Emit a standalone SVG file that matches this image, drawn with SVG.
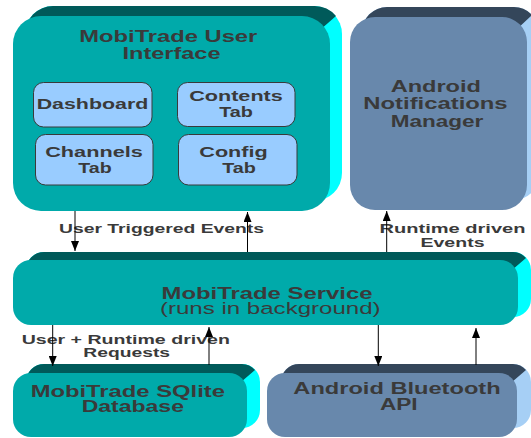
<svg xmlns="http://www.w3.org/2000/svg" width="531" height="438" viewBox="0 0 531 438">
<defs>
<marker id="ah" markerUnits="userSpaceOnUse" markerWidth="10" markerHeight="8" refX="10" refY="4" orient="auto" viewBox="0 0 10 8">
<path d="M0,0 L10,4 L0,8 Z" fill="#000"/>
</marker>
</defs>
<style>
.tealTop{fill:#005a5a}
.tealSide{fill:#00ffff}
.tealFront{fill:#00aaaa}
.blueTop{fill:#34465a}
.blueSide{fill:#a6cff5}
.blueFront{fill:#6888ac}
.sub{fill:#99ccff;stroke:#3a3a3a;stroke-width:1}
text{font-family:"Liberation Sans",Arial,sans-serif;fill:#3a3a3a;text-anchor:middle}
.t17{font-size:16.8px;font-weight:bold}
.t16{font-size:16.3px;font-weight:bold}
.t15{font-size:15.3px;font-weight:bold}
.t14{font-size:13.6px;font-weight:bold}
.reg{font-size:16.3px;font-weight:normal}
.conn line{stroke:#000;stroke-width:1;marker-end:url(#ah)}
</style>
<rect width="531" height="438" fill="#fff"/>

<g id="ui">
<rect class="tealSide" x="25" y="6" width="317" height="195" rx="28"/>
<path class="tealTop" d="M25,50 L25,34 A28,28 0 0 1 53,6 L314,6 A28,28 0 0 1 336,16 L320,30 L40,30 Z"/>
<rect class="tealFront" x="13" y="16" width="317" height="195" rx="28"/>
<text class="t17" x="168.3" y="42.3" textLength="178" lengthAdjust="spacingAndGlyphs">MobiTrade User</text>
<text class="t17" x="171.5" y="59.3" textLength="98" lengthAdjust="spacingAndGlyphs">Interface</text>
</g>
<g id="dashboard">
<rect class="sub" x="33.5" y="82.5" width="118.5" height="44.5" rx="10"/>
<text class="t15" x="92.5" y="109.3" textLength="111.6" lengthAdjust="spacingAndGlyphs">Dashboard</text>
</g>
<g id="contents">
<rect class="sub" x="177.5" y="82.5" width="117.5" height="44" rx="10"/>
<text class="t15" x="236" y="101" textLength="93.7" lengthAdjust="spacingAndGlyphs">Contents</text>
<text class="t15" x="236" y="116.7" textLength="33.7" lengthAdjust="spacingAndGlyphs">Tab</text>
</g>
<g id="channels">
<rect class="sub" x="35.5" y="134.5" width="117.5" height="50.5" rx="10"/>
<text class="t15" x="94" y="156.7" textLength="97.7" lengthAdjust="spacingAndGlyphs">Channels</text>
<text class="t15" x="95" y="172.7" textLength="33.4" lengthAdjust="spacingAndGlyphs">Tab</text>
</g>
<g id="config">
<rect class="sub" x="178.5" y="134.5" width="118.5" height="50.5" rx="10"/>
<text class="t15" x="233.5" y="156.7" textLength="68.4" lengthAdjust="spacingAndGlyphs">Config</text>
<text class="t15" x="239" y="172.7" textLength="33.7" lengthAdjust="spacingAndGlyphs">Tab</text>
</g>

<g id="notifications">
<rect class="blueSide" x="362" y="7" width="177" height="193" rx="25"/>
<path class="blueTop" d="M362,48 L362,32 A25,25 0 0 1 387,7 L514,7 A25,25 0 0 1 532,15 L516,30 L372,30 Z"/>
<rect class="blueFront" x="350" y="17" width="177" height="193" rx="25"/>
<text class="t16" x="435.8" y="91.7" textLength="90.3" lengthAdjust="spacingAndGlyphs">Android</text>
<text class="t16" x="435.5" y="109.3" textLength="144.3" lengthAdjust="spacingAndGlyphs">Notifications</text>
<text class="t16" x="437" y="126.7" textLength="92.7" lengthAdjust="spacingAndGlyphs">Manager</text>
</g>

<g id="service">
<rect class="tealSide" x="26" y="252" width="505" height="65" rx="18"/>
<path class="tealTop" d="M26,285 L26,270 A18,18 0 0 1 44,252 L513,252 A18,18 0 0 1 526,258 L512,270 L30,270 Z"/>
<rect class="tealFront" x="13" y="260" width="505" height="65" rx="18"/>
<text class="t17" x="267" y="299.3" textLength="211" lengthAdjust="spacingAndGlyphs">MobiTrade Service</text>
<text class="reg" x="270.3" y="314.3" textLength="220.7" lengthAdjust="spacingAndGlyphs">(runs in background)</text>
</g>

<g id="database">
<rect class="tealSide" x="26" y="364" width="234" height="64" rx="18"/>
<path class="tealTop" d="M26,397 L26,382 A18,18 0 0 1 44,364 L242,364 A18,18 0 0 1 255,370 L241,382 L30,382 Z"/>
<rect class="tealFront" x="13" y="373" width="234" height="64" rx="18"/>
<text class="t17" x="127.8" y="397.3" textLength="194.3" lengthAdjust="spacingAndGlyphs">MobiTrade SQlite</text>
<text class="t17" x="132.8" y="411.7" textLength="102.3" lengthAdjust="spacingAndGlyphs">Database</text>
</g>

<g id="bluetooth">
<rect class="blueSide" x="281" y="364" width="250" height="64" rx="18"/>
<path class="blueTop" d="M281,397 L281,382 A18,18 0 0 1 299,364 L513,364 A18,18 0 0 1 526,370 L512,382 L285,382 Z"/>
<rect class="blueFront" x="267" y="373" width="250" height="64" rx="18"/>
<text class="t17" x="397" y="394" textLength="207.3" lengthAdjust="spacingAndGlyphs">Android Bluetooth</text>
<text class="t17" x="398.8" y="410" textLength="37.7" lengthAdjust="spacingAndGlyphs">API</text>
</g>

<g id="labels">
<text class="t14" x="161.5" y="232.7" textLength="205" lengthAdjust="spacingAndGlyphs">User Triggered Events</text>
<text class="t14" x="452.5" y="233.3" textLength="146" lengthAdjust="spacingAndGlyphs">Runtime driven</text>
<text class="t14" x="452.5" y="246.5" textLength="64" lengthAdjust="spacingAndGlyphs">Events</text>
<text class="t14" x="125.8" y="344" textLength="208.3" lengthAdjust="spacingAndGlyphs">User + Runtime driven</text>
<text class="t14" x="126.7" y="357.3" textLength="86.7" lengthAdjust="spacingAndGlyphs">Requests</text>
</g>

<g id="connectors" class="conn">
<line x1="75" y1="211" x2="75" y2="251"/>
<line x1="247.5" y1="252" x2="247.5" y2="212"/>
<line x1="386.7" y1="252" x2="386.7" y2="211"/>
<line x1="52.7" y1="325" x2="52.7" y2="366"/>
<line x1="209" y1="365" x2="209" y2="327"/>
<line x1="378.3" y1="325" x2="378.3" y2="366"/>
<line x1="476" y1="365" x2="476" y2="328"/>
</g>
</svg>
